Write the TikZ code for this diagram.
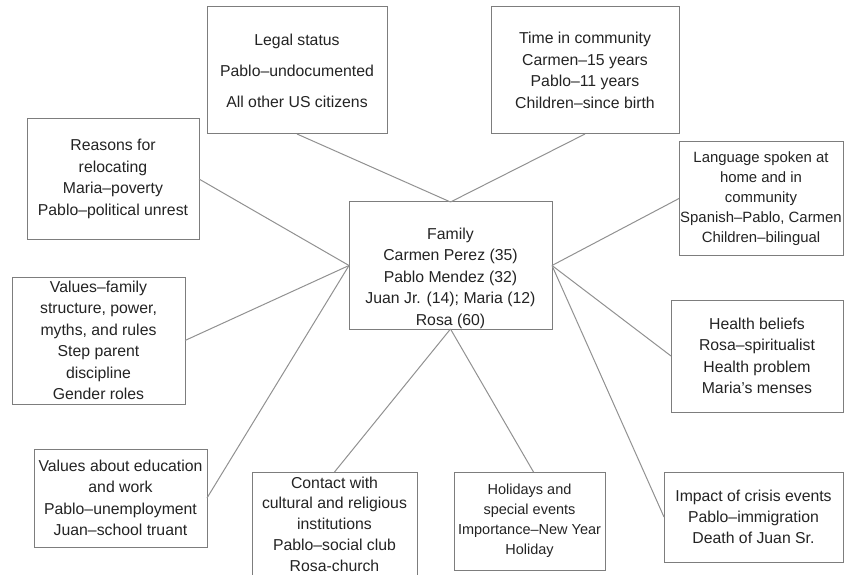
\documentclass[tikz,border=0pt]{standalone}
\usepackage{fontspec}
\setmainfont{Liberation Sans}
\usetikzlibrary{arrows,positioning}

\definecolor{boxgray}{RGB}{125,125,125}
\definecolor{linegray}{RGB}{145,145,145}
\definecolor{inkgray}{RGB}{35,35,35}

\begin{document}
\begin{tikzpicture}[x=1pt,y=-1pt,line width=1pt,
                info text/.style={text=inkgray,align=center,font=\fontsize{15.8}{21.5}\selectfont},
                info node/.style={info text,rectangle,draw=boxgray,inner sep=0pt,outer sep=0pt},
                link/.style={draw=linegray}]
  \clip[use as bounding box] (0,0) rectangle (844,575);

  \node[info node, minimum width=203pt, minimum height=127pt] (family) at (450.5,265.5) {};
  \node[info text] (members) at (450.5,278) {Family\\Carmen Perez (35)\\Pablo Mendez (32)\\Juan Jr. (14); Maria (12)\\Rosa (60)};

  \node[info node, minimum width=180pt, minimum height=127pt, font=\fontsize{15.8}{31}\selectfont] (legal) at (297,70.5) {Legal status\\Pablo--undocumented\\All other US citizens};
  \node[info node, minimum width=188pt, minimum height=127pt] (time) at (585,70.5) {Time in community\\Carmen--15 years\\Pablo--11 years\\Children--since birth};
  \node[info node, minimum width=172pt, minimum height=120pt] (reasons) at (113,179) {Reasons for\\relocating\\Maria--poverty\\Pablo--political unrest};
  \node[info node, minimum width=164pt, minimum height=113pt, font=\fontsize{14.9}{20}\selectfont] (language) at (761,198.5) {Language spoken at\\home and in\\community\\Spanish--Pablo, Carmen\\Children--bilingual};
  \node[info node, minimum width=173pt, minimum height=127pt] (structure) at (98.5,340.5) {Values--family\\structure, power,\\myths, and rules\\Step parent\\discipline\\Gender roles};
  \node[info node, minimum width=172pt, minimum height=112pt] (health) at (757,356) {Health beliefs\\Rosa--spiritualist\\Health problem\\Maria's menses};
  \node[info node, minimum width=173pt, minimum height=98pt] (education) at (120.5,498) {Values about education\\and work\\Pablo--unemployment\\Juan--school truant};
  \node[info node, minimum width=165pt, minimum height=110pt] (contact) at (334.5,527) {};
  \node[info text, font=\fontsize{15.8}{20.8}\selectfont] (institutions) at (334.5,524) {Contact with\\cultural and religious\\institutions\\Pablo--social club\\Rosa-church};
  \node[info node, minimum width=151pt, minimum height=98pt, font=\fontsize{14.5}{20}\selectfont] (holidays) at (529.5,521) {Holidays and\\special events\\Importance--New Year\\Holiday};
  \node[info node, minimum width=179pt, minimum height=90pt, font=\fontsize{15.8}{21}\selectfont] (crisis) at (753.5,517) {Impact of crisis events\\Pablo--immigration\\Death of Juan Sr.};

  \path
    (family.north) edge [link] (legal.south)
    (family.north) edge [link] (time.south)
    (family.west) edge [link] (reasons.east)
    (family.west) edge [link] (structure.east)
    (family.west) edge [link] (education.east)
    (family.east) edge [link] (language.west)
    (family.east) edge [link] (health.west)
    (family.east) edge [link] (crisis.west)
    (family.south) edge [link] (contact.north)
    (family.south) edge [link] ([xshift=4pt]holidays.north)
  ;
\end{tikzpicture}
\end{document}
